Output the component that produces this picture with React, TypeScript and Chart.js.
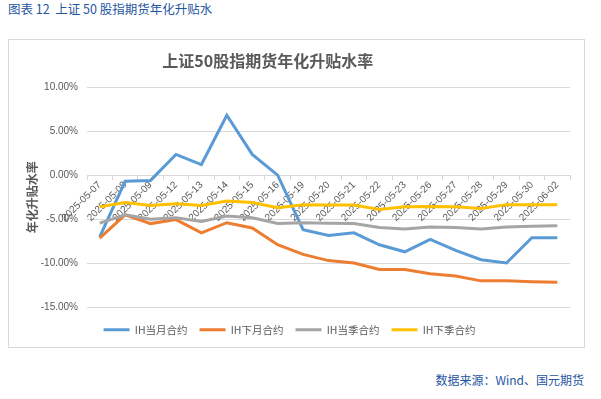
import React, { useEffect, useRef } from "react";
import { Chart, registerables } from "chart.js";

Chart.register(...registerables);

const HEADER = "图表 12  上证 50 股指期货年化升贴水";
const TITLE = "上证50股指期货年化升贴水率";
const Y_TITLE = "年化升贴水率";
const SOURCE = "数据来源：Wind、国元期货";

const categories = [
  "2025-05-07", "2025-05-08", "2025-05-09", "2025-05-12", "2025-05-13",
  "2025-05-14", "2025-05-15", "2025-05-16", "2025-05-19", "2025-05-20",
  "2025-05-21", "2025-05-22", "2025-05-23", "2025-05-26", "2025-05-27",
  "2025-05-28", "2025-05-29", "2025-05-30", "2025-06-02",
];

const seriesNames = ["IH当月合约", "IH下月合约", "IH当季合约", "IH下季合约"];
const seriesColors = ["#5B9BD5", "#ED7D31", "#A5A5A5", "#FFC000"];

const ihCurrentMonth = [
  -7.0, -0.7, -0.6, 2.35, 1.2, 6.8, 2.35, 0.0, -6.2, -6.85,
  -6.55, -7.9, -8.7, -7.3, -8.55, -9.6, -9.97, -7.1, -7.1,
];
const ihNextMonth = [
  -7.15, -4.5, -5.5, -5.05, -6.55, -5.4, -6.0, -7.9, -9.0, -9.7,
  -9.97, -10.7, -10.7, -11.2, -11.45, -12.0, -12.0, -12.1, -12.15,
];
const ihCurrentQuarter = [
  -5.45, -4.5, -5.0, -4.85, -5.25, -4.65, -4.85, -5.5, -5.4, -5.45,
  -5.5, -5.95, -6.1, -5.9, -5.95, -6.1, -5.9, -5.8, -5.75,
];
const ihNextQuarter = [
  -3.6, -3.1, -3.45, -3.25, -3.45, -2.95, -3.1, -3.7, -3.35, -3.4,
  -3.4, -3.9, -3.6, -3.55, -3.6, -3.8, -3.35, -3.35, -3.35,
];

const yMin = -15;
const yMax = 10;
const yStep = 5;

const TEXT = "#595959";
const GRID = "#D9D9D9";
const FONT = '"Liberation Sans", "Noto Sans CJK SC", sans-serif';
const CJK = '"Noto Sans CJK SC", sans-serif';

const titlePlugin = {
  id: "customTitle",
  afterDraw(chart: any) {
    const ctx = chart.ctx;
    ctx.save();
    ctx.font = 'bold 16px "Noto Sans CJK SC", sans-serif';
    ctx.fillStyle = TEXT;
    ctx.textAlign = "center";
    ctx.textBaseline = "middle";
    ctx.fillText(TITLE, chart.width * 0.45, 21);
    ctx.restore();
  },
};

export default function App() {
  const ref = useRef<HTMLCanvasElement | null>(null);

  useEffect(() => {
    if (!ref.current) return;
    const allSeries = [ihCurrentMonth, ihNextMonth, ihCurrentQuarter, ihNextQuarter];
    const chart = new Chart(ref.current, {
      type: "line",
      data: {
        labels: categories,
        datasets: allSeries.map((d, i) => ({
          label: seriesNames[i],
          data: d,
          borderColor: seriesColors[i],
          backgroundColor: seriesColors[i],
          borderWidth: 3,
          pointRadius: 0,
          pointHoverRadius: 0,
          tension: 0,
          order: 3 - i,
        })),
      },
      plugins: [titlePlugin],
      options: {
        animation: false,
        responsive: false,
        maintainAspectRatio: false,
        layout: { padding: { top: 47, right: 14, left: 0, bottom: 2 } },
        plugins: {
          title: { display: false },
          tooltip: { enabled: false },
          legend: {
            display: true,
            position: "bottom",
            title: { display: true, text: " ", font: { size: 1 }, padding: 2 },
            labels: {
              boxWidth: 26,
              boxHeight: 3,
              padding: 12,
              color: TEXT,
              font: { family: CJK, size: 10.5 },
              sort: (a: any, b: any) => a.datasetIndex - b.datasetIndex,
              generateLabels: (chart: any) => {
                const base = Chart.defaults.plugins.legend.labels.generateLabels(chart);
                return base.map((l: any) => ({ ...l, lineWidth: 0, fillStyle: l.strokeStyle }));
              },
            },
          },
        },
        scales: {
          x: {
            type: "category",
            position: { y: 0 } as any,
            offset: true,
            grid: {
              display: true,
              offset: true,
              drawOnChartArea: false,
              drawTicks: true,
              tickLength: 4,
              color: GRID,
            },
            border: { display: true, color: GRID, width: 1 },
            ticks: {
              autoSkip: false,
              minRotation: 45,
              maxRotation: 45,
              padding: 0,
              color: TEXT,
              font: { family: FONT, size: 10 },
            },
          },
          y: {
            min: yMin,
            max: yMax,
            afterFit: (scale: any) => {
              scale.width = 78;
            },
            grid: { color: GRID, drawTicks: false },
            border: { display: false },
            ticks: {
              stepSize: yStep,
              padding: 9,
              color: TEXT,
              font: { family: FONT, size: 10 },
              callback: (v: any) => Number(v).toFixed(2) + "%",
            },
            title: {
              display: true,
              text: Y_TITLE,
              color: TEXT,
              font: { family: CJK, size: 12, weight: "bold" },
              padding: { top: 16, bottom: 0 },
            },
          },
        },
      },
    });
    return () => chart.destroy();
  }, []);

  return (
    <div style={{ position: "absolute", left: 0, top: 0, width: 601, height: 399, background: "#fff", overflow: "hidden" }}>
      <div
        style={{
          position: "absolute",
          left: 8,
          top: 0,
          fontFamily: CJK,
          fontSize: 12.5,
          lineHeight: "18px",
          color: "#1F56A0",
          whiteSpace: "pre",
        }}
      >
        {HEADER}
      </div>
      <div
        style={{
          position: "absolute",
          left: 8,
          top: 39,
          width: 577,
          height: 309,
          border: "1px solid #D9D9D9",
          boxSizing: "border-box",
        }}
      />
      <canvas
        ref={ref}
        width={575}
        height={307}
        style={{ position: "absolute", left: 9, top: 40, width: 575, height: 307 }}
      />
      <div
        style={{
          position: "absolute",
          right: 17,
          top: 372,
          fontFamily: CJK,
          fontSize: 12,
          lineHeight: "16px",
          color: "#1F56A0",
          whiteSpace: "pre",
        }}
      >
        {SOURCE}
      </div>
    </div>
  );
}
